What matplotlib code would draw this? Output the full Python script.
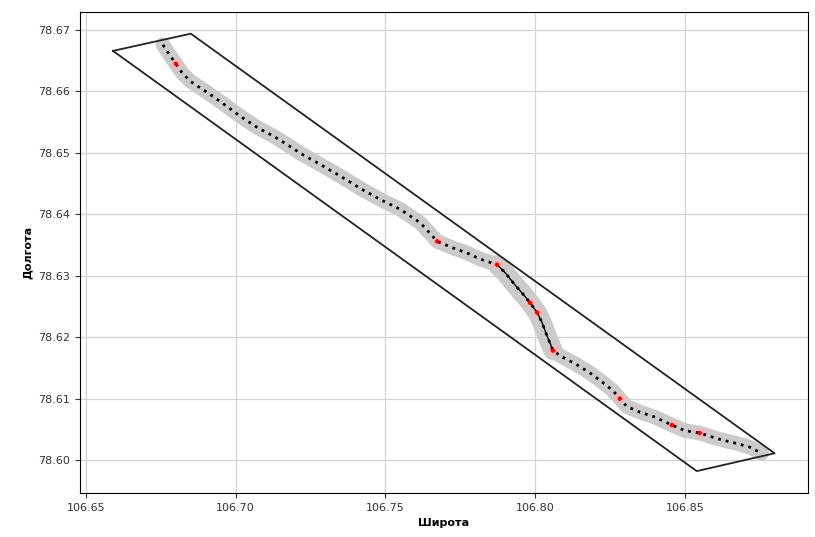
import matplotlib.pyplot as plt
from matplotlib.ticker import FormatStrFormatter

# boundary polygon (lon, lat)
poly_x = [106.659, 106.685, 106.880, 106.854, 106.659]
poly_y = [78.6666, 78.6694, 78.6011, 78.5982, 78.6666]

# track points
track_x = [106.6757, 106.6777, 106.6800, 106.6823, 106.6850, 106.6900, 106.6950,
           106.7017, 106.7073, 106.7127, 106.7183, 106.7217, 106.7283, 106.7350,
           106.7417, 106.7483, 106.7550, 106.7617, 106.7673, 106.7727, 106.7773,
           106.7817, 106.7873, 106.7900, 106.7933, 106.7967, 106.7983, 106.8007,
           106.8023, 106.8040, 106.8060, 106.8090, 106.8133, 106.8183, 106.8227,
           106.8260, 106.8283, 106.8307, 106.8350, 106.8400, 106.8457, 106.8500,
           106.8550, 106.8607, 106.8673, 106.8717, 106.8757]
track_y = [78.6676, 78.6661, 78.6645, 78.6629, 78.6616, 78.6600, 78.6583,
           78.6559, 78.6541, 78.6527, 78.6510, 78.6499, 78.6481, 78.6462,
           78.6442, 78.6424, 78.6408, 78.6386, 78.6356, 78.6345, 78.6337,
           78.6327, 78.6318, 78.6305, 78.6285, 78.6266, 78.6256, 78.6240,
           78.6224, 78.6202, 78.6178, 78.6168, 78.6157, 78.6142, 78.6126,
           78.6113, 78.6100, 78.6087, 78.6078, 78.6070, 78.6057, 78.6048,
           78.6044, 78.6035, 78.6027, 78.6021, 78.6011]

# steep section drawn with a solid line
steep_x = track_x[22:31]
steep_y = track_y[22:31]

# highlighted points
red_x = [106.6800, 106.7673, 106.7873, 106.7983, 106.8007, 106.8060, 106.8283, 106.8457, 106.8550]
red_y = [78.6645, 78.6356, 78.6318, 78.6256, 78.6240, 78.6178, 78.6100, 78.6057, 78.6044]

fig = plt.figure(figsize=(8.15, 5.37), dpi=100)
ax = fig.add_axes([0.098, 0.082, 0.893, 0.896])

ax.plot(track_x, track_y, color='#cbcbcb', lw=10.5, solid_capstyle='round',
        solid_joinstyle='round', zorder=2)
ax.plot(steep_x, steep_y, color='#cbcbcb', lw=14, solid_capstyle='round',
        solid_joinstyle='round', zorder=2)
ax.scatter(red_x, red_y, s=60, color='#f4b8b8', edgecolors='none', zorder=3)
ax.plot(track_x, track_y, color='black', lw=2.0, ls=(0, (1, 1.8)), zorder=4)
ax.plot(steep_x, steep_y, color='black', lw=1.0, zorder=4)
ax.scatter(red_x, red_y, s=10, color='red', edgecolors='none', zorder=5)

ax.plot(poly_x, poly_y, color='#222222', lw=1.3, zorder=6)

ax.grid(True, color='#d4d4d4', lw=0.9)
ax.set_axisbelow(True)
ax.xaxis.set_major_formatter(FormatStrFormatter('%.2f'))
ax.yaxis.set_major_formatter(FormatStrFormatter('%.2f'))
ax.tick_params(labelsize=8, colors='#333333')
ax.set_xlabel('Широта', fontsize=8, fontweight='bold')
ax.set_ylabel('Долгота', fontsize=8, fontweight='bold')

fig.savefig('out.png', dpi=100)
